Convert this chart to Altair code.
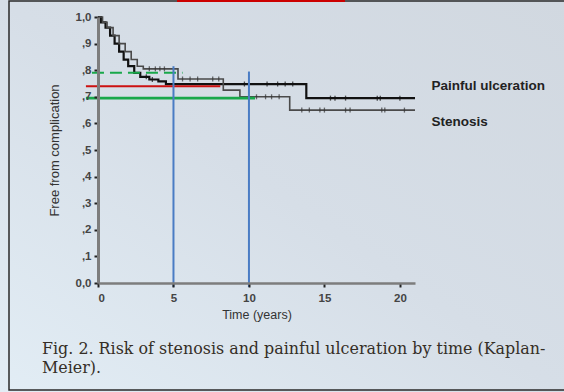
import altair as alt
import pandas as pd

# ---- data ----
pu_t = [0, 0.2, 0.5, 0.8, 1.1, 1.4, 1.7, 2.0, 2.4, 2.8, 3.4, 4.0, 4.5, 13.8, 21.0]
pu_s = [1.0, 0.98, 0.96, 0.93, 0.90, 0.87, 0.84, 0.815, 0.79, 0.775, 0.765, 0.758, 0.748, 0.695, 0.695]
pu_cens = [3.2, 3.6, 9.7, 11.2, 11.9, 12.4, 12.9, 15.4, 15.7, 16.4, 18.5, 18.7, 20.0]

st_t = [0, 0.3, 0.6, 1.0, 1.4, 1.8, 2.2, 2.6, 3.0, 5.3, 8.3, 9.4, 12.7, 21.0]
st_s = [1.0, 0.98, 0.96, 0.93, 0.90, 0.87, 0.84, 0.815, 0.805, 0.767, 0.725, 0.70, 0.65, 0.65]
st_cens = [3.4, 3.8, 4.1, 4.4, 5.6, 6.1, 6.6, 7.6, 8.0, 10.5, 11.1, 11.5, 12.0,
           13.5, 14.0, 14.7, 15.0, 16.4, 16.7, 18.8, 19.0, 20.3]

series_names = ["Painful ulceration", "Stenosis"]
label_pos_t = [22.1, 22.1]
label_pos_s = [0.742, 0.605]

y_ticks = [0, 0.1, 0.2, 0.3, 0.4, 0.5, 0.6, 0.7, 0.8, 0.9, 1.0]
y_labels = ["0,0", ",1", ",2", ",3", ",4", ",5", ",6", ",7", ",8", ",9", "1,0"]
x_ticks = [0, 5, 10, 15, 20]

# annotation lines drawn over the figure
h_lines = {  # name: (y, x_start, x_end)
    "red": (0.74, -0.8, 8.1),
    "green": (0.695, -0.8, 10.4),
    "green_dash": (0.79, -0.4, 5.6),
}
v_lines = {  # x: (y_bottom, y_top)
    5: (-0.015, 0.815),
    10: (-0.015, 0.795),
}

caption = ["Fig. 2. Risk of stenosis and painful ulceration by time (Kaplan-", "Meier)."]


def step_value(ts, ss, t):
    v = ss[0]
    for a, b in zip(ts, ss):
        if a <= t:
            v = b
    return v


pu_df = pd.DataFrame({"t": pu_t, "s": pu_s})
st_df = pd.DataFrame({"t": st_t, "s": st_s})
pu_c = pd.DataFrame({"t": pu_cens, "s": [step_value(pu_t, pu_s, t) for t in pu_cens]})
st_c = pd.DataFrame({"t": st_cens, "s": [step_value(st_t, st_s, t) for t in st_cens]})
lab_df = pd.DataFrame({"t": label_pos_t, "s": label_pos_s, "name": series_names})

W, H = 317, 266
xs = alt.Scale(domain=[0, 21], nice=False, zero=False)
ys = alt.Scale(domain=[0, 1], nice=False)

label_expr = "[" + ",".join(f"'{l}'" for l in y_labels) + "][round(datum.value*10)]"

x_axis = alt.Axis(
    values=x_ticks, title="Time (years)", grid=False, domainColor="#7d7d7d", domainWidth=2.5,
    tickColor="#222", tickSize=4, tickWidth=2, labelFontSize=11.5, labelColor="#444",
    labelFont="Liberation Sans", labelFontWeight="bold", labelPadding=5,
    titleFont="Liberation Sans", titleFontSize=12.5, titleFontWeight="normal",
    titleColor="#333", titlePadding=5, zindex=1)
y_axis = alt.Axis(
    values=y_ticks, labelExpr=label_expr, labelOverlap=False, title="Free from complication",
    grid=False, domainColor="#7d7d7d", domainWidth=3, tickColor="#222", tickSize=4, tickWidth=2,
    labelFontSize=11.5, labelColor="#444", labelFont="Liberation Sans", labelFontWeight="bold",
    labelPadding=3, titleFont="Liberation Sans", titleFontSize=13, titleFontWeight="normal",
    titleColor="#333", titlePadding=14, zindex=1)


def X(f):
    return alt.X(f + ":Q", scale=xs, axis=x_axis)


def Y(f):
    return alt.Y(f + ":Q", scale=ys, axis=y_axis)


one = pd.DataFrame({"a": [0]})

bg = alt.Chart(one).mark_rect(
    color=alt.LinearGradient(
        gradient="linear", x1=0, y1=1, x2=1, y2=0,
        stops=[alt.GradientStop(color="#e2edf5", offset=0),
               alt.GradientStop(color="#d6dee7", offset=0.5),
               alt.GradientStop(color="#d1d8e0", offset=1)])
).encode(x=alt.value(-98), x2=alt.value(W + 149), y=alt.value(-17), y2=alt.value(H + 109))

frame = alt.Chart(one).mark_rect(fill=None, stroke="#2a2a2a", strokeWidth=1.5).encode(
    x=alt.value(-89), x2=alt.value(W + 200), y=alt.value(-16), y2=alt.value(H + 107))

topbar = alt.Chart(one).mark_rect(color="#cc0000").encode(
    x=alt.value(79), x2=alt.value(247), y=alt.value(-17), y2=alt.value(-15))

pu_line = alt.Chart(pu_df).mark_line(interpolate="step-after", color="#111", strokeWidth=2.2).encode(
    x=X("t"), y=Y("s"))
st_line = alt.Chart(st_df).mark_line(interpolate="step-after", color="#4a4a4a", strokeWidth=1.6).encode(
    x=X("t"), y=Y("s"))

tick_shape = "M0,-1L0,1"
pu_ticks = alt.Chart(pu_c).mark_point(shape=tick_shape, size=25, filled=False, color="#111",
                                      strokeWidth=1.3).encode(x=X("t"), y=Y("s"))
st_ticks = alt.Chart(st_c).mark_point(shape=tick_shape, size=25, filled=False, color="#333",
                                      strokeWidth=1.3).encode(x=X("t"), y=Y("s"))

labels = alt.Chart(lab_df).mark_text(align="left", baseline="middle", font="Liberation Sans",
                                     fontSize=13.5, fontWeight="bold", color="#222").encode(
    x=X("t"), y=Y("s"), text="name:N")

hl_df = pd.DataFrame([{"k": k, "y": v[0], "x1": v[1], "x2": v[2]} for k, v in h_lines.items()])
red = alt.Chart(hl_df[hl_df.k == "red"]).mark_rule(color="#cc1111", strokeWidth=2).encode(
    x=X("x1"), x2="x2:Q", y=Y("y"))
green = alt.Chart(hl_df[hl_df.k == "green"]).mark_rule(color="#18a84a", strokeWidth=2.6).encode(
    x=X("x1"), x2="x2:Q", y=Y("y"))
green_d = alt.Chart(hl_df[hl_df.k == "green_dash"]).mark_rule(
    color="#18a84a", strokeWidth=2, strokeDash=[12, 6]).encode(x=X("x1"), x2="x2:Q", y=Y("y"))

vl_df = pd.DataFrame([{"x": k, "y1": v[0], "y2": v[1]} for k, v in v_lines.items()])
blue = alt.Chart(vl_df).mark_rule(color="#4a7cc4", strokeWidth=2).encode(
    x=X("x"), y=Y("y1"), y2="y2:Q")

cap = alt.Chart(one).mark_text(align="left", baseline="middle", font="DejaVu Serif",
                               fontSize=15.9, lineHeight=18.5, color="#352e26").encode(
    x=alt.value(-56), y=alt.value(332), text=alt.value(caption))

chart = alt.layer(bg, frame, topbar, pu_line, st_line, pu_ticks, st_ticks, labels,
                  red, green, green_d, blue, cap).properties(
    width=W, height=H,
    background="#d5dce4",
    padding={"left": 98, "top": 17, "right": 149, "bottom": 109},
    autosize=alt.AutoSizeParams(type="none"),
).configure_view(stroke=None)

chart.save("out.html", embed_options={"renderer": "svg", "actions": False})
